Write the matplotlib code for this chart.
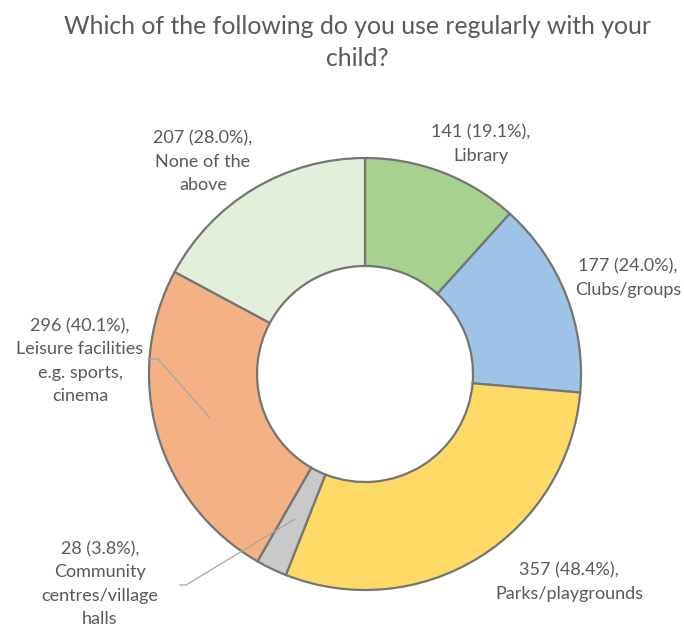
import matplotlib.pyplot as plt

plt.rcParams['font.family'] = ['Lato', 'DejaVu Sans']

# survey answers, clockwise from 12 o'clock
categories = ['Library', 'Clubs/groups', 'Parks/playgrounds',
              'Community centres/village halls',
              'Leisure facilities e.g. sports, cinema', 'None of the above']
counts = [141, 177, 357, 28, 296, 207]
percents = [19.1, 24.0, 48.4, 3.8, 40.1, 28.0]
colors = ['#A9D18E', '#9DC3E6', '#FFD966', '#C9C9C9', '#F4B183', '#E2EFDA']

# label text broken over lines, as laid out on the chart
label_lines = [
    ['Library'],
    ['Clubs/groups'],
    ['Parks/playgrounds'],
    ['Community', 'centres/village', 'halls'],
    ['Leisure facilities', 'e.g. sports,', 'cinema'],
    ['None of the', 'above'],
]
# label centres (pixel space, y down)
label_pos = [(481, 144), (628, 278), (569, 582), (100, 584), (80, 361), (203, 162)]

text_col = '#595959'

fig = plt.figure(figsize=(6.84, 6.29), dpi=100)
ax = fig.add_axes([0, 0, 1, 1])

# y runs downward, so counterclock=True draws clockwise on screen
ax.pie(counts, colors=colors, startangle=-90, counterclock=True,
       center=(365, 374), radius=216, frame=True,
       wedgeprops=dict(width=108, edgecolor='#757575', linewidth=1.6))
ax.set_xlim(0, 684)
ax.set_ylim(629, 0)
ax.set_aspect('equal')
ax.axis('off')

for n, p, lines, (x, y) in zip(counts, percents, label_lines, label_pos):
    txt = '\n'.join([f'{n} ({p:.1f}%),'] + lines)
    ax.text(x, y, txt, ha='center', va='center', fontsize=13, color=text_col,
            linespacing=1.55)

# leader lines for the two labels sitting outside their slices
ax.plot([148, 158, 210], [359, 359, 418], color='#A6A6A6', lw=0.9)
ax.plot([180, 186, 295], [585, 585, 519], color='#A6A6A6', lw=0.9)

ax.text(357, 26, 'Which of the following do you use regularly with your', ha='center',
        va='center', fontsize=17.8, color=text_col)
ax.text(357, 59, 'child?', ha='center', va='center', fontsize=17.8, color=text_col)

fig.savefig('out.png', dpi=100)
